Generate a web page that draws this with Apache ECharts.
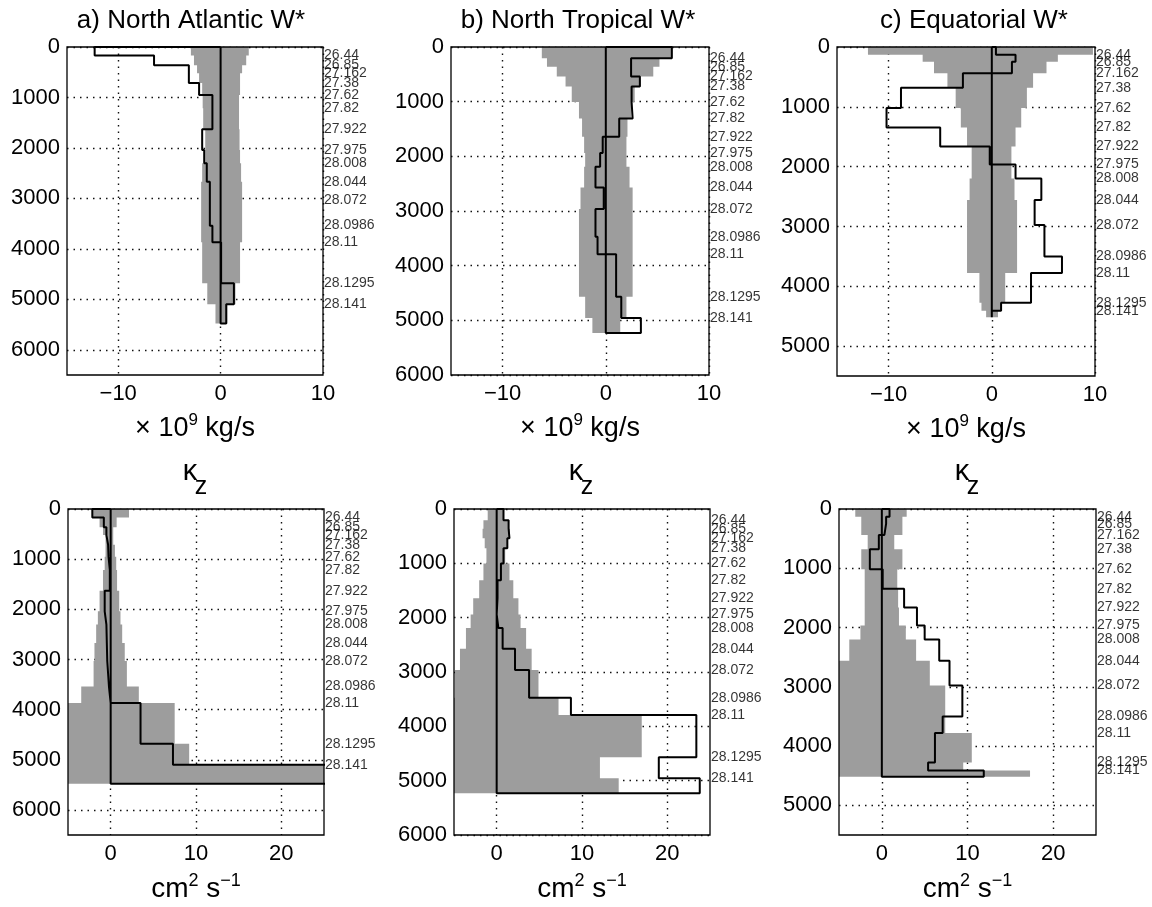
<!DOCTYPE html>
<html><head><meta charset="utf-8">
<script src="https://cdn.jsdelivr.net/npm/echarts@6/dist/echarts.min.js"></script>
<style>html,body{margin:0;padding:0;background:#fff}#c{width:1152px;height:907px}</style>
</head><body><div id="c"></div><script>
// ---------------- data ----------------
const densityLabels = ['26.44','26.85','27.162','27.38','27.62','27.82','27.922','27.975','28.008','28.044','28.072','28.0986','28.11','28.1295','28.141'];
// layer interface depths (m) for each region (surface, 15 isopycnals, bottom)
const depthNA = [0,170,363,520,713,950,1215,1630,2040,2305,2670,3030,3540,3870,4683,5100,5480];
const depthNT = [0,205,363,540,722,1005,1310,1642,1940,2190,2572,2965,3473,3790,4570,4957,5232];
const depthEQ = [0,131,248,438,681,1018,1345,1663,1965,2200,2559,2977,3502,3779,4275,4410,4518];

// W* (x 10^9 kg/s) per layer: estimate, lower and upper uncertainty bounds
const wNA   = [-12.3,-6.5,-3.1,-3.1,-2.1,-0.8,-0.8,-1.8,-1.6,-1.35,-1.05,-1.05,-0.8,0.05,1.3,0.55];
const wNAlo = [-2.9,-2.6,-2.3,-2.1,-1.8,-1.75,-1.7,-1.5,-1.5,-1.8,-1.9,-1.9,-1.9,-1.8,-1.3,-0.5];
const wNAhi = [2.75,2.5,2.1,1.9,1.9,1.8,1.8,1.85,1.9,2.0,2.1,2.1,2.1,1.9,1.45,0.65];

const wNT   = [6.4,2.45,2.45,3.3,2.5,2.6,1.3,-0.3,-0.55,-1.0,-0.2,-1.0,-0.8,1.0,1.5,3.4];
const wNTlo = [-6.2,-5.7,-4.75,-3.9,-3.3,-2.6,-2.3,-2.1,-2.0,-2.1,-2.45,-2.6,-2.6,-2.6,-2.0,-1.3];
const wNThi = [6.4,5.2,4.6,3.4,2.8,2.45,2.1,2.0,2.0,2.3,2.6,2.6,2.6,2.6,2.0,1.4];

const wEQ   = [0.4,2.3,1.95,-2.8,-8.8,-10.2,-5.0,-0.2,2.3,4.8,4.15,5.1,6.8,3.8,0.9,0.0];
const wEQlo = [-12.0,-6.7,-5.6,-4.3,-3.5,-3.0,-2.4,-1.95,-1.95,-2.15,-2.4,-2.4,-2.4,-1.2,-1.0,-0.55];
const wEQhi = [9.8,6.4,5.3,4.0,3.4,2.85,2.3,1.9,1.9,2.2,2.45,2.45,2.45,1.3,0.9,0.6];

// kappa_z (cm^2 s^-1) per layer
const kNA   = [-2.15,-0.8,-0.5,-0.3,-0.25,-0.1,-0.1,-0.7,-0.5,-0.45,-0.4,-0.2,0.0,3.5,7.3,30];
const kNAlo = [-2.15,-1.3,-0.9,-0.6,-0.6,-0.7,-0.9,-1.3,-1.5,-1.7,-1.9,-2.0,-3.45,-8,-8,-8];
const kNAhi = [2.15,0.7,0.3,0.3,0.5,0.65,0.75,1.0,1.15,1.35,1.65,1.9,3.3,7.5,9.2,40];

const kNT   = [0.8,1.4,1.5,1.25,0.8,0.5,0.1,0.0,0.2,0.7,2.15,3.8,8.7,23.4,19.0,23.8];
const kNTlo = [-1.05,-1.55,-1.65,-1.4,-1.2,-1.55,-2.05,-2.75,-3.05,-3.6,-4.3,-4.9,-8,-8,-8,-8];
const kNThi = [0.85,1.4,1.55,1.25,1.0,1.5,1.95,2.55,2.8,3.45,4.1,4.9,7.25,17.0,12.1,14.3];

const kEQ   = [0.9,0.5,0.3,-0.35,-1.4,0.1,2.6,4.1,5.0,6.7,7.9,9.4,7.1,6.2,5.4,11.9];
const kEQlo = [-3.1,-2.4,-2.4,-1.65,-2.4,-2.0,-2.0,-2.0,-2.5,-3.8,-8,-8,-8,-8,-8,-8];
const kEQhi = [2.9,2.4,2.4,1.45,2.4,1.8,1.9,2.0,2.8,4.0,5.6,7.4,7.4,10.5,9.5,17.3];

// tick values
const wTicks = [-10,0,10];
const kTicks = [0,10,20];
const yTicks6500 = [0,1000,2000,3000,4000,5000,6000];
const yTicks6000 = [0,1000,2000,3000,4000,5000,6000];
const yTicks5500 = [0,1000,2000,3000,4000,5000];

// ---------------- layout ----------------
const FONT = '"Liberation Sans", Arial, Helvetica, sans-serif';
const panels = [
  {grid:{left:67, top:47, width:256, height:328}, xMin:-15, xMax:10, xTicks:wTicks, yMax:6500, yTicks:yTicks6500, depth:depthNA, v:wNA, lo:wNAlo, hi:wNAhi, kind:'w'},
  {grid:{left:451, top:47, width:258, height:328}, xMin:-15, xMax:10, xTicks:wTicks, yMax:6000, yTicks:yTicks6000, depth:depthNT, v:wNT, lo:wNTlo, hi:wNThi, kind:'w'},
  {grid:{left:837, top:47, width:258, height:329}, xMin:-15, xMax:10, xTicks:wTicks, yMax:5500, yTicks:yTicks5500, depth:depthEQ, v:wEQ, lo:wEQlo, hi:wEQhi, kind:'w'},
  {grid:{left:68, top:509, width:256, height:328}, xMin:-5, xMax:25, xTicks:kTicks, yMax:6500, yTicks:yTicks6500, depth:depthNA, v:kNA, lo:kNAlo, hi:kNAhi, kind:'k'},
  {grid:{left:454, top:509, width:256, height:328}, xMin:-5, xMax:25, xTicks:kTicks, yMax:6000, yTicks:yTicks6000, depth:depthNT, v:kNT, lo:kNTlo, hi:kNThi, kind:'k'},
  {grid:{left:839, top:509, width:257, height:328}, xMin:-5, xMax:25, xTicks:kTicks, yMax:5500, yTicks:yTicks5500, depth:depthEQ, v:kEQ, lo:kEQlo, hi:kEQhi, kind:'k'}
];
const titles = [
  {x:191, y:21, text:'a) North Atlantic W*'},
  {x:578, y:21, text:'b) North Tropical W*'},
  {x:974, y:21, text:'c) Equatorial W*'}
];
const kappaTitles = [{x:190, y:472},{x:576, y:472},{x:962, y:472}];

function stairs(depth, v) {
  const pts = [[0, 0]];
  for (let i = 0; i < v.length; i++) { pts.push([v[i], depth[i]]); pts.push([v[i], depth[i+1]]); }
  pts.push([0, depth[depth.length-1]]);
  pts.push([0, 0]);
  return pts;
}
function bandPoly(depth, lo, hi) {
  const pts = [];
  for (let i = 0; i < lo.length; i++) { pts.push([lo[i], depth[i]]); pts.push([lo[i], depth[i+1]]); }
  for (let i = hi.length - 1; i >= 0; i--) { pts.push([hi[i], depth[i+1]]); pts.push([hi[i], depth[i]]); }
  return pts;
}
const minus = v => String(v).replace('-', '\u2212');
const gridLine = {show:true, lineStyle:{type:[1.5,5], color:'#111', width:1.4}};

const grids = [], xAxes = [], yAxes = [], series = [];
panels.forEach((p, i) => {
  grids.push(Object.assign({show:true, z:5, borderColor:'#000', borderWidth:1.3, backgroundColor:'transparent'}, p.grid));
  xAxes.push({
    gridIndex:i, type:'value', min:p.xMin, max:p.xMax,
    axisLine:{show:false}, axisTick:{show:false, customValues:p.xTicks},
    axisLabel:{customValues:p.xTicks, fontSize:22, color:'#000', fontFamily:FONT, margin:8, formatter:minus},
    splitLine:gridLine,
    name: p.kind === 'w' ? '\u00d7 10{sup|9} kg/s' : 'cm{sup|2} s{sup|\u22121}',
    nameLocation:'middle', nameGap: 37,
    nameTextStyle: p.kind === 'w'
      ? {color:'#000', fontFamily:FONT, fontSize:27, lineHeight:34, rich:{sup:{fontSize:17, fontFamily:FONT, color:'#000', verticalAlign:'top', lineHeight:20}}}
      : {color:'#000', fontFamily:FONT, fontSize:28, lineHeight:34, rich:{sup:{fontSize:18, fontFamily:FONT, color:'#000', verticalAlign:'top', lineHeight:20}}}
  });
  yAxes.push({
    gridIndex:i, type:'value', inverse:true, min:0, max:p.yMax, interval:1000,
    axisLine:{show:false}, axisTick:{show:false, customValues:p.yTicks},
    axisLabel:{customValues:p.yTicks, fontSize:22, color:'#000', fontFamily:FONT, margin:7, formatter: v => String(v)},
    splitLine:gridLine
  });
  const band = bandPoly(p.depth, p.lo, p.hi);
  series.push({
    type:'custom', xAxisIndex:i, yAxisIndex:i, clip:true, silent:true, z:2,
    data:[[0,0]],
    renderItem:(params, api) => ({
      type:'polygon',
      shape:{points: band.map(pt => api.coord(pt))},
      style:{fill:'#9d9d9d', stroke:null}
    })
  });
  series.push({
    type:'line', xAxisIndex:i, yAxisIndex:i, clip:true, silent:true, z:3,
    showSymbol:false, symbol:'none', animation:false,
    lineStyle:{color:'#000', width:2},
    data: stairs(p.depth, p.v)
  });
  series.push({
    type:'scatter', xAxisIndex:i, yAxisIndex:i, clip:false, silent:true, z:4,
    symbolSize:0,
    data: densityLabels.map((t, k) => [p.xMax, p.depth[k+1], t]),
    label:{show:true, position:'right', distance:1, formatter: q => q.data[2], fontSize:14, color:'#000', fontFamily:FONT}
  });
});

const graphics = [];
titles.forEach(t => graphics.push({type:'text', x:t.x, y:t.y, style:{text:t.text, fontSize:26, fontFamily:FONT, fill:'#000', textAlign:'center', textVerticalAlign:'middle'}}));
kappaTitles.forEach(t => {
  graphics.push({type:'text', x:t.x, y:t.y, style:{text:'\u03ba', fontSize:29, fontFamily:FONT, fill:'#000', textAlign:'center', textVerticalAlign:'middle'}});
  graphics.push({type:'text', x:t.x + 11, y:t.y + 15, style:{text:'z', fontSize:25, fontFamily:FONT, fill:'#000', textAlign:'center', textVerticalAlign:'middle'}});
});

const chart = echarts.init(document.getElementById('c'), null, {renderer:'canvas'});
chart.setOption({
  animation:false,
  backgroundColor:'#fff',
  grid: grids, xAxis: xAxes, yAxis: yAxes, series: series, graphic: graphics
});
</script></body></html>
